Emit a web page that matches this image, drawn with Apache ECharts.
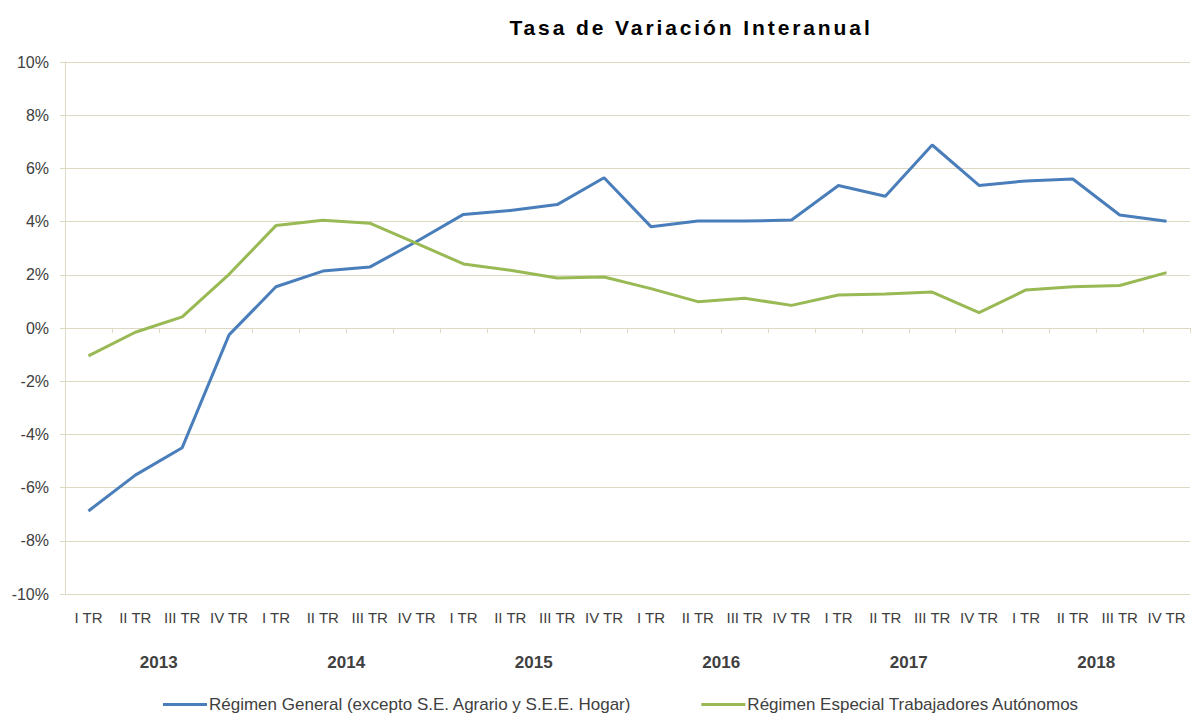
<!DOCTYPE html>
<html>
<head>
<meta charset="utf-8">
<script src="https://cdn.jsdelivr.net/npm/echarts@6/dist/echarts.min.js"></script>
<style>
html,body{margin:0;padding:0;background:#fff;}
#chart{width:1192px;height:715px;}
#chart text[style*="21px"]{letter-spacing:2.9px;}
</style>
</head>
<body>
<div id="chart"></div>
<script>
const quarters = ['I TR','II TR','III TR','IV TR','I TR','II TR','III TR','IV TR','I TR','II TR','III TR','IV TR','I TR','II TR','III TR','IV TR','I TR','II TR','III TR','IV TR','I TR','II TR','III TR','IV TR'];
const years = ['2013','2014','2015','2016','2017','2018'];
const yTicks = [-10,-8,-6,-4,-2,0,2,4,6,8,10];
const regimenGeneral = [-6.88,-5.53,-4.5,-0.26,1.55,2.14,2.29,3.25,4.27,4.42,4.64,5.65,3.81,4.02,4.02,4.06,5.36,4.95,6.88,5.36,5.53,5.6,4.25,4.01];
const autonomos = [-1.05,-0.16,0.42,2.02,3.85,4.05,3.94,3.18,2.41,2.17,1.88,1.92,1.48,0.99,1.12,0.85,1.24,1.28,1.35,0.58,1.43,1.55,1.6,2.08];
const seriesNames = ['Régimen General (excepto S.E. Agrario y S.E.E. Hogar)','Régimen Especial Trabajadores Autónomos'];

const gridColor = '#DDD9C3';
const textColor = '#404040';
const font = '"Liberation Sans", Arial, sans-serif';

const chart = echarts.init(document.getElementById('chart'), null, {renderer: 'svg'});
chart.setOption({
  animation: false,
  backgroundColor: '#fff',
  title: {
    text: 'Tasa de Variación Interanual',
    left: 686, top: 12, textAlign: 'center',
    textStyle: {fontFamily: font, fontWeight: 'bold', fontSize: 21, color: '#000'}
  },
  grid: {left: 65, right: 2, top: 62, bottom: 121, containLabel: false},
  legend: {
    bottom: -3, left: 158,
    icon: 'rect', itemWidth: 44, itemHeight: 3, itemGap: 70,
    textStyle: {fontFamily: font, fontSize: 17, color: textColor, padding: [0,0,0,-3]},
    data: seriesNames
  },
  xAxis: [
    {
      type: 'category', data: quarters, boundaryGap: true,
      axisLine: {onZero: true, lineStyle: {color: gridColor, width: 1}},
      axisTick: {show: true, length: 5, lineStyle: {color: gridColor}},
      axisLabel: {show: false}
    },
    {
      type: 'category', data: quarters, position: 'bottom',
      axisLine: {show: false, onZero: false}, axisTick: {show: false},
      axisLabel: {interval: 0, margin: 16, fontFamily: font, fontSize: 15, color: textColor}
    },
    {
      type: 'category', data: years, position: 'bottom', offset: 50,
      axisLine: {show: false, onZero: false}, axisTick: {show: false},
      axisLabel: {interval: 0, margin: 10, fontFamily: font, fontSize: 17, fontWeight: 'bold', color: textColor}
    }
  ],
  yAxis: {
    type: 'value', min: yTicks[0], max: yTicks[yTicks.length-1], interval: 2,
    axisLine: {show: true, lineStyle: {color: gridColor}},
    axisTick: {show: true, length: 5, lineStyle: {color: gridColor}},
    splitLine: {lineStyle: {color: gridColor, width: 1}},
    axisLabel: {formatter: v => v + '%', margin: 16, fontFamily: font, fontSize: 16, color: textColor}
  },
  series: [
    {name: seriesNames[0], type: 'line', data: regimenGeneral, symbol: 'none', xAxisIndex: 0,
     lineStyle: {color: '#4A7EBB', width: 3}, itemStyle: {color: '#4A7EBB'}},
    {name: seriesNames[1], type: 'line', data: autonomos, symbol: 'none', xAxisIndex: 0,
     lineStyle: {color: '#98B954', width: 3}, itemStyle: {color: '#98B954'}}
  ]
});
</script>
</body>
</html>
